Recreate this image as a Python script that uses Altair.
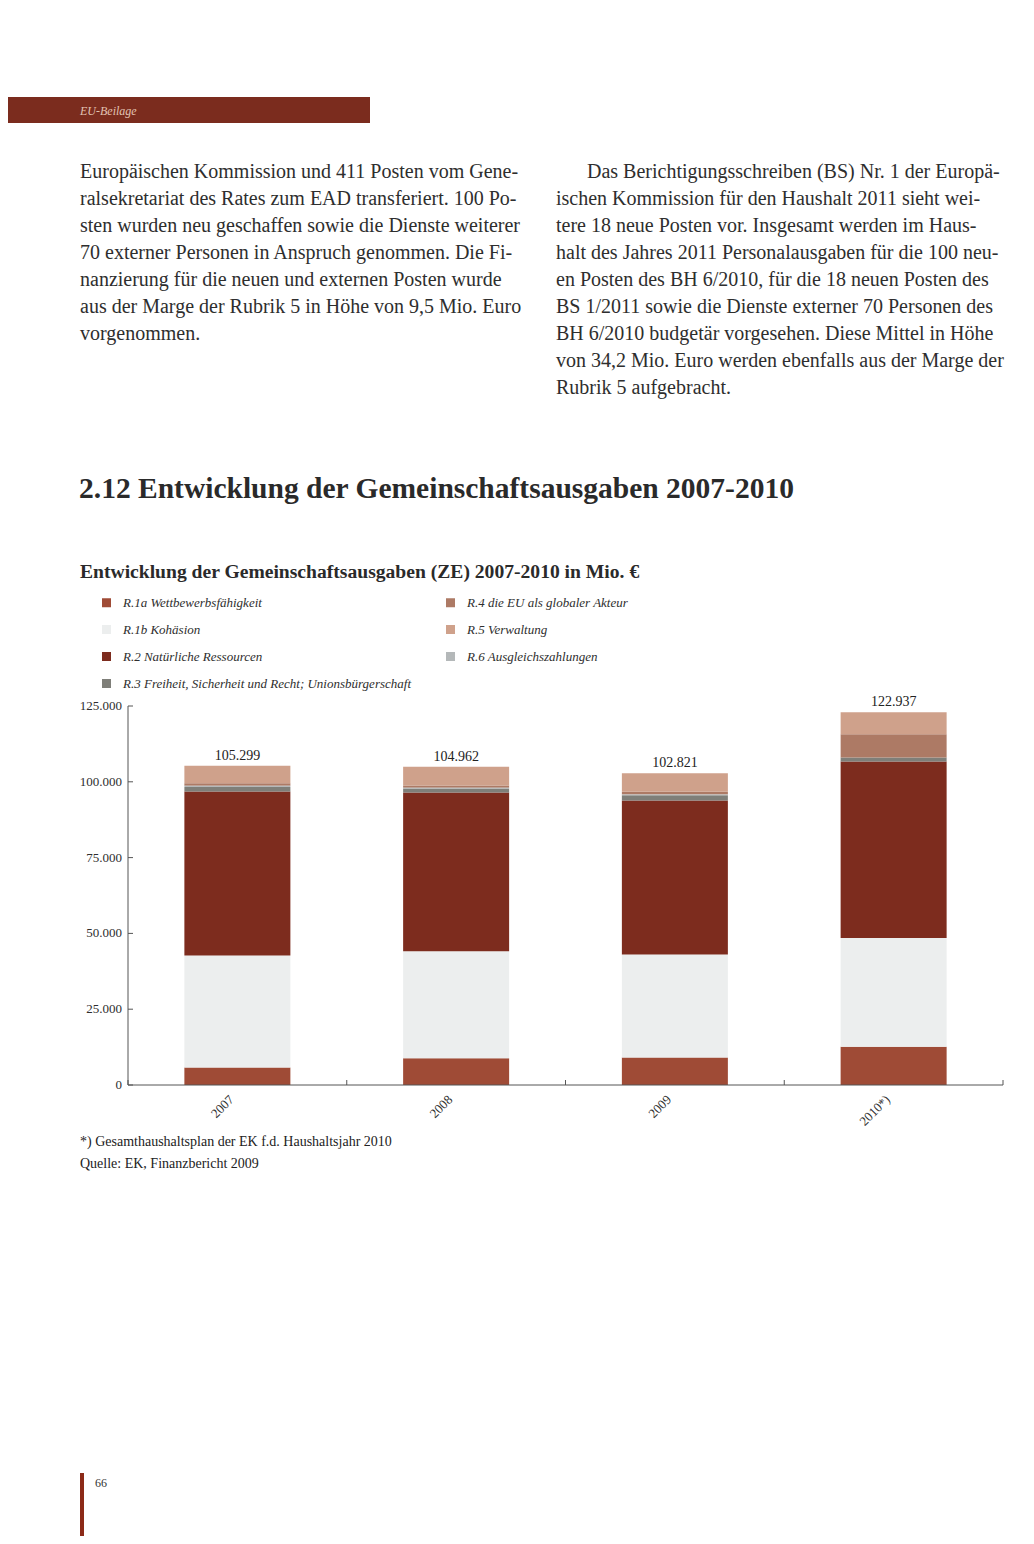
import altair as alt
import pandas as pd

# ---------------- data ----------------
years = ["2007", "2008", "2009", "2010*)"]
total_values = [105299, 104962, 102821, 122937]
total_labels = ["105.299", "104.962", "102.821", "122.937"]

series = [
    "R.1a Wettbewerbsfähigkeit",
    "R.1b Kohäsion",
    "R.2 Natürliche Ressourcen",
    "R.3 Freiheit, Sicherheit und Recht; Unionsbürgerschaft",
    "R.4 die EU als globaler Akteur",
    "R.5 Verwaltung",
    "R.6 Ausgleichszahlungen",
]
series_colors = ["#9f4b36", "#eceeee", "#7d2c1e", "#7f7f79", "#ad7a65", "#cfa18b", "#b4b8b9"]

r1a = [5800, 8800, 9100, 12600]
r1b = [36900, 35300, 33900, 35900]
r2 = [54100, 52400, 50800, 58200]
r3 = [1500, 1300, 1800, 1300]
r4 = [800, 800, 900, 7700]
r5 = [5800, 6200, 6100, 7200]
r6 = [400, 200, 200, 0]

y_ticks = [0, 25000, 50000, 75000, 100000, 125000]
y_tick_labels = ["0", "25.000", "50.000", "75.000", "100.000", "125.000"]

header_label = "EU-Beilage"
left_column = [
    "Europäischen Kommission und 411 Posten vom Gene-",
    "ralsekretariat des Rates zum EAD transferiert. 100 Po-",
    "sten wurden neu geschaffen sowie die Dienste weiterer",
    "70 externer Personen in Anspruch genommen. Die Fi-",
    "nanzierung für die neuen und externen Posten wurde",
    "aus der Marge der Rubrik 5 in Höhe von 9,5 Mio. Euro",
    "vorgenommen.",
]
right_first = "Das Berichtigungsschreiben (BS) Nr. 1 der Europä-"
right_column = [
    "ischen Kommission für den Haushalt 2011 sieht wei-",
    "tere 18 neue Posten vor. Insgesamt werden im Haus-",
    "halt des Jahres 2011 Personalausgaben für die 100 neu-",
    "en Posten des BH 6/2010, für die 18 neuen Posten des",
    "BS 1/2011 sowie die Dienste externer 70 Personen des",
    "BH 6/2010 budgetär vorgesehen. Diese Mittel in Höhe",
    "von 34,2 Mio. Euro werden ebenfalls aus der Marge der",
    "Rubrik 5 aufgebracht.",
]
section_heading = "2.12 Entwicklung der Gemeinschaftsausgaben 2007-2010"
chart_title = "Entwicklung der Gemeinschaftsausgaben (ZE) 2007-2010 in Mio. €"
footnotes = [
    "*) Gesamthaushaltsplan der EK f.d. Haushaltsjahr 2010",
    "Quelle: EK, Finanzbericht 2009",
]
page_number = "66"

# ---------------- tables ----------------
stack_order = [0, 1, 2, 3, 5, 6, 4]  # R.6 sits next to R.3 in the stack
rows = []
for si, (name, vals) in enumerate(zip(series, [r1a, r1b, r2, r3, r4, r5, r6])):
    for yr, v in zip(years, vals):
        rows.append({"year": yr, "series": name, "value": v, "order": stack_order[si]})
df = pd.DataFrame(rows)
tot_df = pd.DataFrame({"year": years, "total": total_values, "label": total_labels})
tick_df = pd.DataFrame({"v": y_ticks, "label": y_tick_labels})

FONT = "Liberation Serif"
TXT = "#2e2e2e"
AX = "#555555"
W, H = 875, 379

yscale = alt.Scale(domain=[0, 125000], nice=False, zero=True)
xsort = years
xscale = alt.Scale(paddingInner=0, paddingOuter=0)

bars = alt.Chart(df).mark_bar(width=106).encode(
    x=alt.X("year:N", sort=xsort, scale=xscale, axis=None),
    y=alt.Y("value:Q", stack="zero", scale=yscale, axis=None),
    color=alt.Color("series:N", scale=alt.Scale(domain=series, range=series_colors),
                    legend=alt.Legend(orient="none", legendX=-28, legendY=-110, columns=2,
                                      direction="vertical",
                                      title=None, symbolType="square", symbolSize=81,
                                      symbolStrokeWidth=0, labelFont=FONT,
                                      labelFontStyle="italic", labelFontSize=13,
                                      labelColor=TXT, labelLimit=500, rowPadding=13,
                                      columnPadding=33, labelOffset=10, padding=0)),
    order=alt.Order("order:Q", sort="ascending"),
)

totals = alt.Chart(tot_df).mark_text(font=FONT, fontSize=14, color="#222", dy=-6,
                                     baseline="alphabetic").encode(
    x=alt.X("year:N", sort=xsort, scale=xscale, axis=None),
    y=alt.Y("total:Q", scale=yscale, axis=None),
    text="label:N",
)

# axes drawn from the scales
x_labels = alt.Chart(tot_df).mark_text(font=FONT, fontSize=13, color=TXT, angle=315,
                                       align="right", baseline="middle", dx=-8).encode(
    x=alt.X("year:N", sort=xsort, scale=xscale, axis=None),
    y=alt.value(H + 7),
    text="year:N",
)
y_labels = alt.Chart(tick_df).mark_text(font=FONT, fontSize=13, color=TXT, align="right",
                                        baseline="middle", dx=-6).encode(
    y=alt.Y("v:Q", scale=yscale, axis=None),
    x=alt.value(0),
    text="label:N",
)
xticks = alt.Chart(tot_df).mark_rule(color=AX).encode(
    x=alt.X("year:N", sort=xsort, scale=xscale, axis=None, bandPosition=0),
    y=alt.value(H - 5), y2=alt.value(H),
)
one = alt.Data(values=[{}])
xend = alt.Chart(one).mark_rule(color=AX).encode(
    x=alt.value(W), y=alt.value(H - 5), y2=alt.value(H),
)
xdomain = alt.Chart(one).mark_rule(color=AX).encode(
    x=alt.value(0), x2=alt.value(W), y=alt.value(H),
)
ydomain = alt.Chart(one).mark_rule(color=AX).encode(
    x=alt.value(0), y=alt.value(0), y2=alt.value(H),
)
yticks = alt.Chart(tick_df).mark_rule(color=AX).encode(
    y=alt.Y("v:Q", scale=yscale, axis=None),
    x=alt.value(0), x2=alt.value(5),
)

# page elements (positions relative to plot origin at page (128, 706))
def px(x):
    return x - 128

def py(y):
    return y - 706

header_bar = alt.Chart(one).mark_rect(color="#7b2c1e").encode(
    x=alt.value(px(8)), x2=alt.value(px(370)), y=alt.value(py(97)), y2=alt.value(py(123)))
header_txt = alt.Chart(one).mark_text(font=FONT, fontStyle="italic", fontSize=12,
                                      color="#e2c3b3", align="left", baseline="middle").encode(
    x=alt.value(px(80)), y=alt.value(py(111)), text=alt.value(header_label))

body_kw = dict(font=FONT, fontSize=20, color=TXT, align="left", baseline="alphabetic",
               lineHeight=27)
left_txt = alt.Chart(one).mark_text(**body_kw).encode(
    x=alt.value(px(80)), y=alt.value(py(178)), text=alt.value(left_column))
right_txt1 = alt.Chart(one).mark_text(**body_kw).encode(
    x=alt.value(px(587)), y=alt.value(py(178)), text=alt.value(right_first))
right_txt = alt.Chart(one).mark_text(**body_kw).encode(
    x=alt.value(px(556)), y=alt.value(py(205)), text=alt.value(right_column))

heading = alt.Chart(one).mark_text(font=FONT, fontSize=29.5, fontWeight="bold", color="#2a2a2a",
                                   align="left", baseline="alphabetic").encode(
    x=alt.value(px(79)), y=alt.value(py(498)), text=alt.value(section_heading))
ctitle = alt.Chart(one).mark_text(font=FONT, fontSize=19.6, fontWeight="bold", color="#2a2a2a",
                                  align="left", baseline="alphabetic").encode(
    x=alt.value(px(80)), y=alt.value(py(578)), text=alt.value(chart_title))
foot = alt.Chart(one).mark_text(font=FONT, fontSize=14, color="#222", align="left",
                                baseline="alphabetic", lineHeight=22).encode(
    x=alt.value(px(80)), y=alt.value(py(1146)), text=alt.value(footnotes))
page_bar = alt.Chart(one).mark_rect(color="#8c2a18").encode(
    x=alt.value(px(80)), x2=alt.value(px(84)), y=alt.value(py(1473)), y2=alt.value(py(1540)))
page_txt = alt.Chart(one).mark_text(font=FONT, fontSize=12, color="#333", align="left",
                                    baseline="middle").encode(
    x=alt.value(px(95)), y=alt.value(py(1483)), text=alt.value(page_number))

chart = alt.layer(
    bars, totals, x_labels, y_labels, xticks, xend, xdomain, ydomain, yticks,
    header_bar, header_txt, left_txt, right_txt1, right_txt, heading, ctitle, foot,
    page_bar, page_txt,
).properties(
    width=W, height=H,
    autosize=alt.AutoSizeParams(type="none"),
    padding={"left": 120, "top": 698, "right": 23, "bottom": 451},
).configure(font=FONT, background="#ffffff").configure_view(stroke=None)

chart.save("out.html", embed_options={"renderer": "svg", "actions": False})
